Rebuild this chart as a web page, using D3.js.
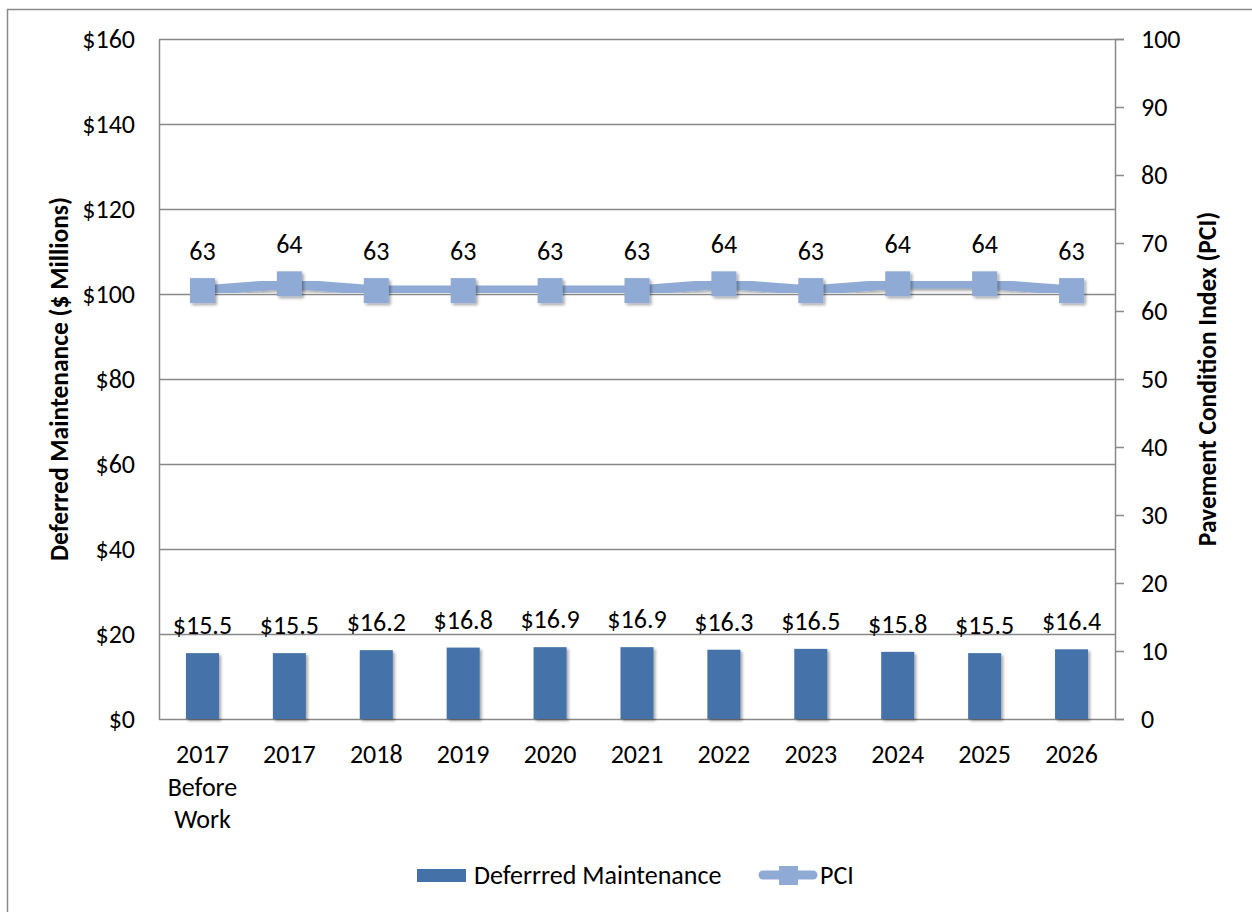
<!DOCTYPE html>
<html>
<head>
<meta charset="utf-8">
<script src="https://cdn.jsdelivr.net/npm/d3@7"></script>
<style>
  html, body { margin: 0; padding: 0; background: #fff; }
  svg { display: block; }
  text { font-family: Carlito, Lato, "Open Sans", sans-serif; fill: #000; }
</style>
</head>
<body>
<svg id="chart" width="1252" height="912"></svg>
<script>
// Categories (multi-line labels split on "|")
const categories = ["2017|Before|Work", "2017", "2018", "2019", "2020", "2021", "2022", "2023", "2024", "2025", "2026"];
// Deferred maintenance, $ millions
const deferredMaintenance = [15.5, 15.5, 16.2, 16.8, 16.9, 16.9, 16.3, 16.5, 15.8, 15.5, 16.4];
// Pavement Condition Index
const pciValues = [63, 64, 63, 63, 63, 63, 64, 63, 64, 64, 63];
// Axis ticks
const leftTicks = [0, 20, 40, 60, 80, 100, 120, 140, 160];
const rightTicks = [0, 10, 20, 30, 40, 50, 60, 70, 80, 90, 100];

const barColor = "#4472A8";
const pciColor = "#8FAAD4";
const gridColor = "#888888";
const fontSize = 26;
const titleSize = 25.5;

const svg = d3.select("#chart");

// Chart frame
svg.append("rect")
  .attr("x", 7.5).attr("y", 9.5)
  .attr("width", 1300).attr("height", 1000)
  .attr("fill", "none").attr("stroke", "#8a8a8a").attr("stroke-width", 1.5);

const plot = { left: 159, right: 1115, top: 39, bottom: 719 };

const x = d3.scaleBand()
  .domain(d3.range(categories.length))
  .range([plot.left, plot.right])
  .padding(0);

const yLeft = d3.scaleLinear().domain([0, 160]).range([plot.bottom, plot.top]);
const yRight = d3.scaleLinear().domain([0, 100]).range([plot.bottom, plot.top]);

const defs = svg.append("defs");
const shadow = defs.append("filter").attr("id", "shadow")
  .attr("x", "-30%").attr("y", "-30%").attr("width", "160%").attr("height", "160%");
shadow.append("feGaussianBlur").attr("in", "SourceAlpha").attr("stdDeviation", 1.6).attr("result", "blur");
shadow.append("feOffset").attr("in", "blur").attr("dx", 1.5).attr("dy", 2).attr("result", "off");
shadow.append("feComponentTransfer").attr("in", "off").attr("result", "soft")
  .append("feFuncA").attr("type", "linear").attr("slope", 0.35);
const merge = shadow.append("feMerge");
merge.append("feMergeNode").attr("in", "soft");
merge.append("feMergeNode").attr("in", "SourceGraphic");

// Horizontal gridlines
svg.append("g")
  .selectAll("line")
  .data(leftTicks)
  .join("line")
  .attr("x1", plot.left).attr("x2", plot.right)
  .attr("y1", d => Math.round(yLeft(d)) + 0.5)
  .attr("y2", d => Math.round(yLeft(d)) + 0.5)
  .attr("stroke", gridColor).attr("stroke-width", 1.5);

// Left axis
const leftAxis = svg.append("g")
  .attr("transform", `translate(${plot.left},0)`)
  .call(d3.axisLeft(yLeft).tickValues(leftTicks).tickSize(0).tickPadding(24).tickFormat(d => "$" + d));
leftAxis.select(".domain").attr("stroke", gridColor).attr("stroke-width", 1.5);
leftAxis.selectAll("text")
  .style("font-size", fontSize + "px").attr("fill", "#000")
  .attr("font-family", null);

// Right axis
const rightAxis = svg.append("g")
  .attr("transform", `translate(${plot.right},0)`)
  .call(d3.axisRight(yRight).tickValues(rightTicks).tickSize(9).tickPadding(17));
rightAxis.select(".domain").attr("stroke", gridColor).attr("stroke-width", 1.5);
rightAxis.selectAll(".tick line").attr("stroke", gridColor).attr("stroke-width", 1.5);
rightAxis.selectAll("text")
  .style("font-size", fontSize + "px").attr("fill", "#000");

// Category labels
const catAxis = svg.append("g");
categories.forEach((c, i) => {
  const t = catAxis.append("text")
    .attr("x", x(i) + x.bandwidth() / 2)
    .attr("y", 763)
    .attr("text-anchor", "middle")
    .style("font-size", fontSize + "px");
  c.split("|").forEach((line, j) => {
    t.append("tspan")
      .attr("x", x(i) + x.bandwidth() / 2)
      .attr("dy", j === 0 ? 0 : 32.5)
      .text(line);
  });
});

// Bars
const barW = x.bandwidth() * 0.38;
svg.append("g")
  .selectAll("rect")
  .data(deferredMaintenance)
  .join("rect")
  .attr("x", (d, i) => x(i) + (x.bandwidth() - barW) / 2)
  .attr("y", d => yLeft(d))
  .attr("width", barW)
  .attr("height", d => yLeft(0) - yLeft(d))
  .attr("fill", barColor)
  .attr("filter", "url(#shadow)");

// Bar value labels
svg.append("g")
  .selectAll("text")
  .data(deferredMaintenance)
  .join("text")
  .attr("x", (d, i) => x(i) + x.bandwidth() / 2)
  .attr("y", d => yLeft(d) - 28)
  .attr("dy", "0.35em")
  .attr("text-anchor", "middle")
  .style("font-size", fontSize + "px")
  .text(d => "$" + d.toFixed(1));

// PCI line
const line = d3.line()
  .x((d, i) => x(i) + x.bandwidth() / 2)
  .y(d => yRight(d));

svg.append("path")
  .datum(pciValues)
  .attr("d", line)
  .attr("fill", "none")
  .attr("stroke", pciColor)
  .attr("stroke-width", 10)
  .attr("stroke-linejoin", "round")
  .attr("stroke-linecap", "round")
  .attr("filter", "url(#shadow)");

// PCI markers
const mk = 25;
svg.append("g")
  .selectAll("rect")
  .data(pciValues)
  .join("rect")
  .attr("x", (d, i) => x(i) + x.bandwidth() / 2 - mk / 2)
  .attr("y", d => yRight(d) - mk / 2)
  .attr("width", mk).attr("height", mk)
  .attr("fill", pciColor)
  .attr("filter", "url(#shadow)");

// PCI value labels
svg.append("g")
  .selectAll("text")
  .data(pciValues)
  .join("text")
  .attr("x", (d, i) => x(i) + x.bandwidth() / 2)
  .attr("y", d => yRight(d) - 40)
  .attr("dy", "0.35em")
  .attr("text-anchor", "middle")
  .style("font-size", fontSize + "px")
  .text(d => d);

// Axis titles
svg.append("text")
  .attr("transform", `translate(59,${(plot.top + plot.bottom) / 2}) rotate(-90)`)
  .attr("text-anchor", "middle")
  .attr("dy", "0.35em")
  .style("font-size", titleSize + "px").style("font-weight", "bold")
  .text("Deferred Maintenance ($ Millions)");

svg.append("text")
  .attr("transform", `translate(1207,${(plot.top + plot.bottom) / 2}) rotate(-90)`)
  .attr("text-anchor", "middle")
  .attr("dy", "0.35em")
  .style("font-size", titleSize + "px").style("font-weight", "bold")
  .text("Pavement Condition Index (PCI)");

// Legend
const legend = svg.append("g");
legend.append("rect")
  .attr("x", 417).attr("y", 869).attr("width", 49).attr("height", 13)
  .attr("fill", barColor);
legend.append("text")
  .attr("x", 474).attr("y", 875).attr("dy", "0.35em")
  .style("font-size", fontSize + "px")
  .text("Deferrred Maintenance");
legend.append("line")
  .attr("x1", 763).attr("x2", 813).attr("y1", 875).attr("y2", 875)
  .attr("stroke", pciColor).attr("stroke-width", 9).attr("stroke-linecap", "round");
legend.append("rect")
  .attr("x", 779).attr("y", 866).attr("width", 19).attr("height", 19)
  .attr("fill", pciColor);
legend.append("text")
  .attr("x", 820).attr("y", 875).attr("dy", "0.35em")
  .style("font-size", fontSize + "px")
  .text("PCI");
</script>
</body>
</html>
